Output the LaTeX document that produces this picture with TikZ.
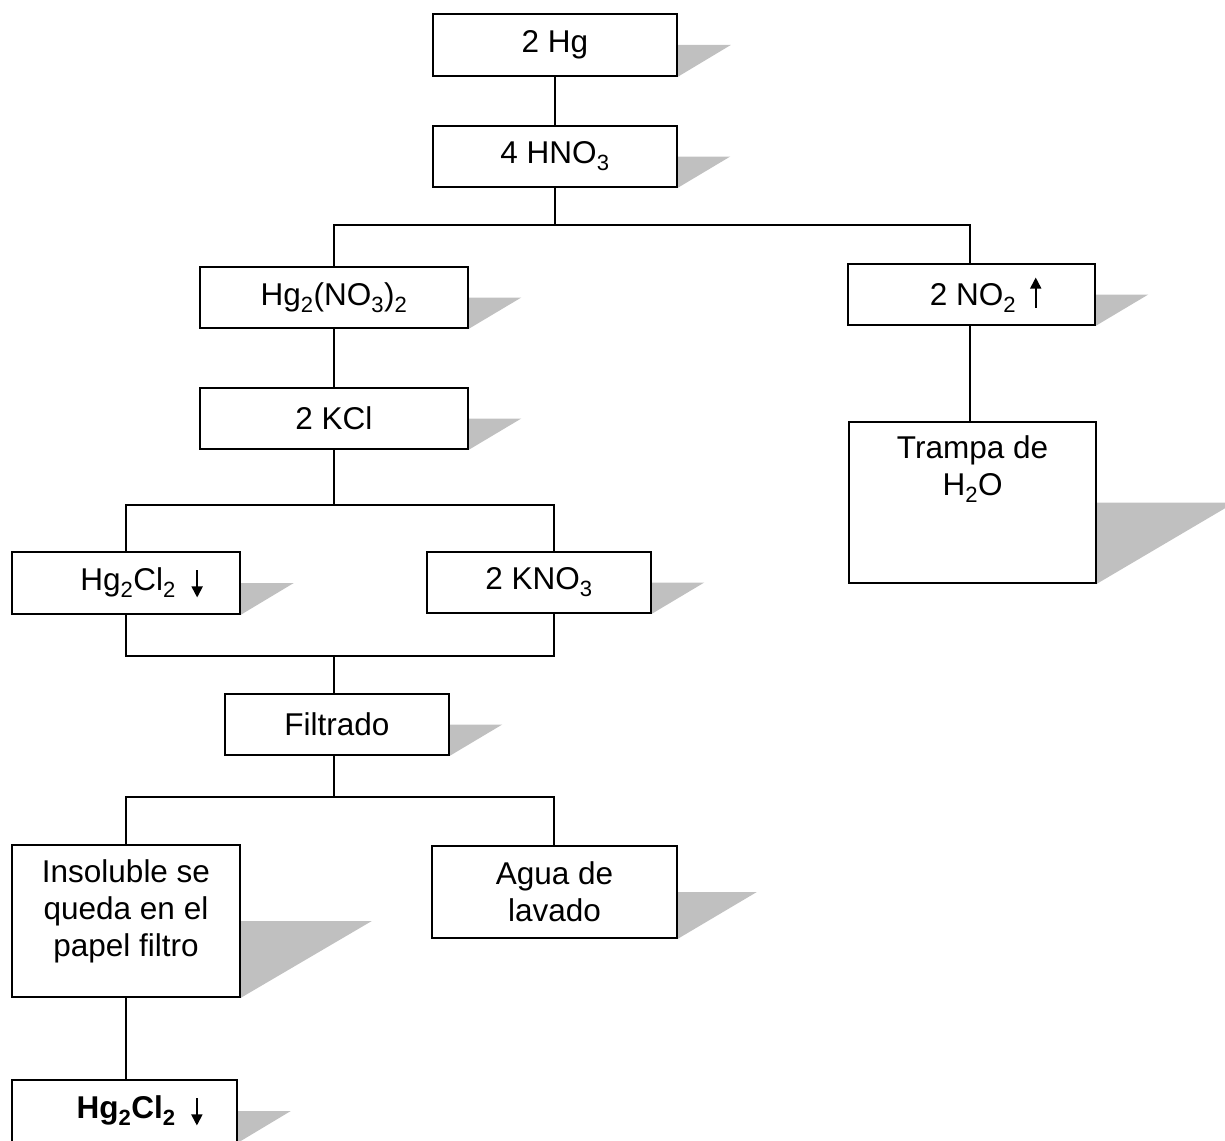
\documentclass[tikz,border=0pt]{standalone}
\usepackage{fontspec}
\setmainfont{Liberation Sans}
\usepackage{tikz}
\usetikzlibrary{backgrounds,arrows.meta}
\definecolor{Sombra}{HTML}{C0C0C0}
\tikzset{
caja/.style={draw, rectangle, line width=1.6pt, fill=white, align=center, inner sep=2pt, font=\fontsize{31.5pt}{37pt}\selectfont},
sombra/.style={fill=Sombra},
linea/.style={line width=1.3pt},
punta/.style={line width=1.8pt, -{Triangle[length=11pt,width=11pt]}}
}
\newcommand{\sombra}[2]{\fill[sombra] (#1.east) -- ++(#2,0) -- (#1.south east) -- cycle;}
\newcommand{\baja}{\tikz[baseline=0pt]\draw[punta] (0pt,20pt) -- (0pt,-7pt);}
\newcommand{\sube}{\tikz[baseline=0pt]\draw[punta] (0pt,-2pt) -- (0pt,28pt);}

\begin{document}
\begin{tikzpicture}[x=1pt, y=-1pt]
    \useasboundingbox (0,0) rectangle (1225,1140);

    \node[caja, minimum width=244pt, minimum height=62pt] (hg) at (555,45) {2 Hg};
    \node[caja, minimum width=244pt, minimum height=61pt] (hno) at (555,156.5) {4 HNO\textsubscript{3}};
    \node[caja, minimum width=268pt, minimum height=61pt] (hgno) at (334,297.5) {Hg\textsubscript{2}(NO\textsubscript{3})\textsubscript{2}};
    \node[caja, minimum width=247pt, minimum height=61pt] (no) at (971.5,294.5) {\hspace*{28pt}2 NO\textsubscript{2}\hspace{0.45em}\sube};
    \node[caja, minimum width=268pt, minimum height=61pt] (kcl) at (334,418.5) {2 KCl};
    \node[caja, minimum width=247pt, minimum height=161pt] (trampa) at (972.5,502.5) {Trampa de\\H\textsubscript{2}O\\\mbox{}\\\mbox{}};
    \node[caja, minimum width=228pt, minimum height=62pt] (hgcl) at (126,583) {\hspace*{31pt}Hg\textsubscript{2}Cl\textsubscript{2}\hspace{0.5em}\baja};
    \node[caja, minimum width=224pt, minimum height=61pt] (kno) at (539,582.5) {2 KNO\textsubscript{3}};
    \node[caja, minimum width=224pt, minimum height=61pt] (filt) at (337,724.5) {Filtrado};
    \node[caja, minimum width=228pt, minimum height=152pt] (insol) at (126,921) {Insoluble se\\queda en el\\papel filtro\\[-12pt]\mbox{}};
    \node[caja, minimum width=245pt, minimum height=92pt] (agua) at (554.5,892) {Agua de\\lavado};
    \node[caja, minimum width=225pt, minimum height=62pt] (prod) at (124.5,1111) {\hspace*{30pt}\textbf{Hg\textsubscript{2}Cl\textsubscript{2}}\hspace{0.5em}\baja};

    \coordinate (r1) at (555,225);
    \coordinate (r2) at (334,505);
    \coordinate (r3) at (334,656);
    \coordinate (r4) at (334,797);

    \begin{scope}[on background layer]
    \sombra{hg}{53}
    \sombra{hno}{52.5}
    \sombra{hgno}{52.5}
    \sombra{no}{52.5}
    \sombra{kcl}{52.5}
    \sombra{trampa}{138}
    \sombra{hgcl}{53}
    \sombra{kno}{52.5}
    \sombra{filt}{52.5}
    \sombra{insol}{131}
    \sombra{agua}{79}
    \sombra{prod}{53}
    \end{scope}

    \draw[linea] (hg) -- (hno);
    \draw[linea] (hno.south) -- (r1);
    \draw[linea] (hgno.north) |- (r1) -| ([xshift=-1.5pt]no.north);
    \draw[linea] (hgno) -- (kcl);
    \draw[linea] ([xshift=-1.5pt]no.south) -- ([xshift=-2.5pt]trampa.north);
    \draw[linea] (kcl.south) -- (r2);
    \draw[linea] (hgcl.north) |- (r2) -| ([xshift=15pt]kno.north);
    \draw[linea] (hgcl.south) |- (r3) -| ([xshift=15pt]kno.south);
    \draw[linea] (r3) -- (filt.north -| r3);
    \draw[linea] (filt.south -| r4) -- (r4);
    \draw[linea] (insol.north) |- (r4) -| ([xshift=-0.5pt]agua.north);
    \draw[linea] (insol.south) -- (insol.south |- prod.north);
\end{tikzpicture}
\end{document}
